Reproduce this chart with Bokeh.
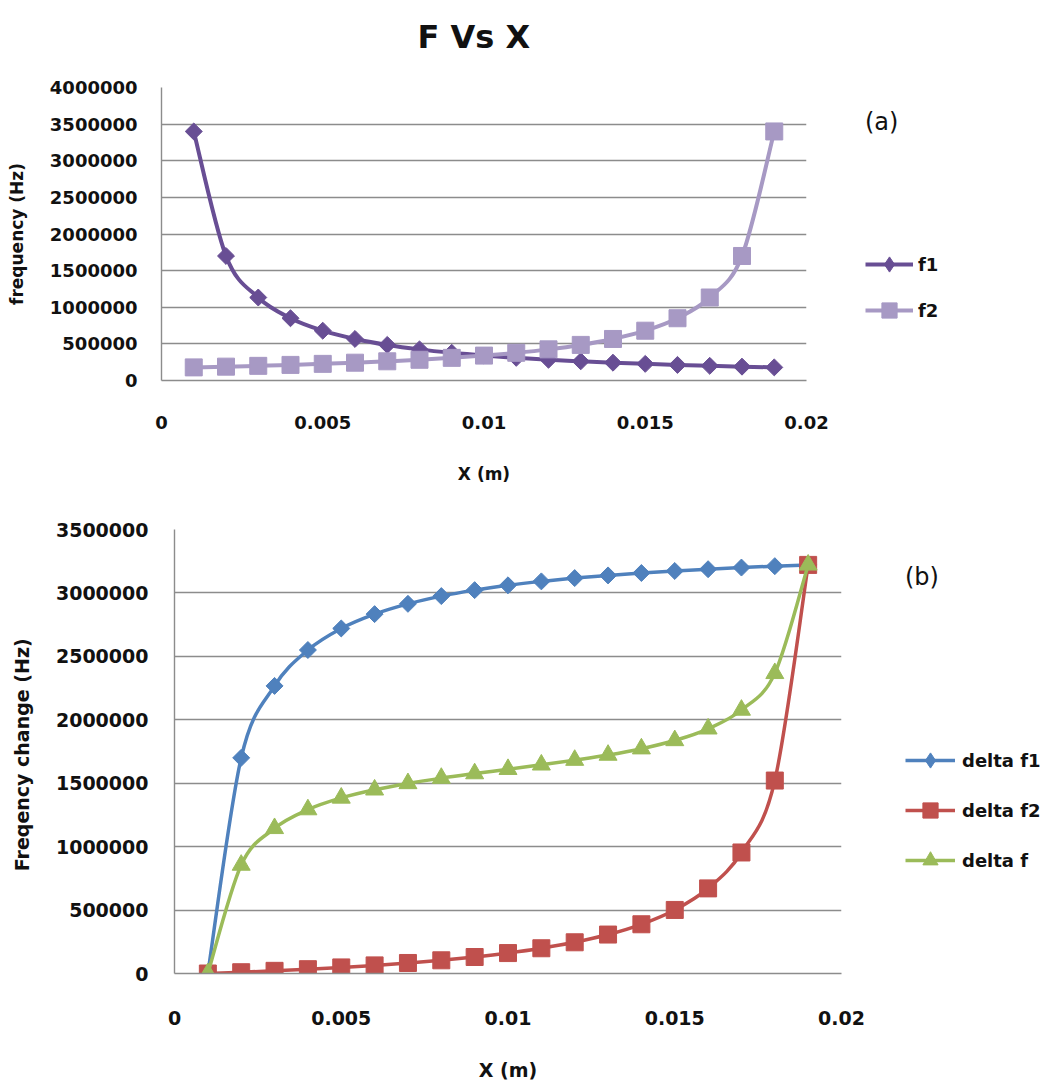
import math
from bokeh.plotting import figure
from bokeh.layouts import column
from bokeh.models import (ColumnDataSource, Range1d, Legend, LegendItem, Title,
                          BasicTickFormatter, FixedTicker)
from bokeh.embed import file_html
from bokeh.resources import INLINE

# ---------------- data ----------------
x_m = [0.001, 0.002, 0.003, 0.004, 0.005, 0.006, 0.007, 0.008, 0.009, 0.010,
       0.011, 0.012, 0.013, 0.014, 0.015, 0.016, 0.017, 0.018, 0.019]

f1 = [3400000, 1700000, 1133000, 850000, 680000, 567000, 486000, 425000, 378000, 340000,
      309000, 283000, 262000, 243000, 227000, 213000, 200000, 189000, 179000]
f2 = [179000, 189000, 200000, 213000, 227000, 243000, 262000, 283000, 309000, 340000,
      378000, 425000, 486000, 567000, 680000, 850000, 1133000, 1700000, 3400000]

delta_f1 = [0, 1700000, 2267000, 2550000, 2720000, 2833000, 2914000, 2975000, 3022000, 3060000,
            3091000, 3117000, 3138000, 3157000, 3173000, 3187000, 3200000, 3211000, 3221000]
delta_f2 = [0, 10000, 21000, 34000, 48000, 64000, 83000, 104000, 130000, 161000,
            199000, 246000, 307000, 388000, 501000, 671000, 954000, 1521000, 3221000]
delta_f = [0, 855000, 1144000, 1292000, 1384000, 1448000, 1498000, 1540000, 1576000, 1610000,
           1645000, 1682000, 1722000, 1772000, 1837000, 1929000, 2077000, 2366000, 3221000]

x_ticks = [0, 0.005, 0.01, 0.015, 0.02]
x_tick_labels = ["0", "0.005", "0.01", "0.015", "0.02"]
y_ticks_a = [0, 500000, 1000000, 1500000, 2000000, 2500000, 3000000, 3500000, 4000000]
y_ticks_b = [0, 500000, 1000000, 1500000, 2000000, 2500000, 3000000, 3500000]

FONT = "DejaVu Sans"
GRID = "#8c8c8c"
TXT = "#111111"


def smooth(xs, ys):
    """Bezier segments (Catmull-Rom style, like Excel's smoothed lines)."""
    n = len(xs)
    d = dict(x0=[], y0=[], x1=[], y1=[], cx0=[], cy0=[], cx1=[], cy1=[])
    for i in range(n - 1):
        ip = max(i - 1, 0)
        i2 = min(i + 2, n - 1)
        d["x0"].append(xs[i]); d["y0"].append(ys[i])
        d["x1"].append(xs[i + 1]); d["y1"].append(ys[i + 1])
        d["cx0"].append(xs[i] + (xs[i + 1] - xs[ip]) / 6.0)
        d["cy0"].append(ys[i] + (ys[i + 1] - ys[ip]) / 6.0)
        d["cx1"].append(xs[i + 1] - (xs[i2] - xs[i]) / 6.0)
        d["cy1"].append(ys[i + 1] - (ys[i2] - ys[i]) / 6.0)
    return ColumnDataSource(d)


def style(p, ticks_y, tick_size, lab_size, tick_std, xstd, xlab_std, ylab_std):
    try:
        p.frame_align = False
    except Exception:
        pass
    p.outline_line_color = None
    p.xgrid.grid_line_color = None
    p.ygrid.grid_line_color = GRID
    p.ygrid.grid_line_width = 1.4
    p.xaxis.ticker = FixedTicker(ticks=x_ticks)
    p.xaxis.major_label_overrides = {t: l for t, l in zip(x_ticks, x_tick_labels)}
    p.yaxis.ticker = FixedTicker(ticks=ticks_y)
    p.yaxis.formatter = BasicTickFormatter(use_scientific=False)
    for ax in (p.xaxis, p.yaxis):
        ax.axis_line_color = GRID
        ax.axis_line_width = 1.4
        ax.major_tick_line_color = None
        ax.minor_tick_line_color = None
        ax.major_tick_out = 0
        ax.major_tick_in = 0
        ax.major_label_text_font = FONT
        ax.major_label_text_font_style = "bold"
        ax.major_label_text_font_size = tick_size
        ax.major_label_text_color = TXT
        ax.axis_label_text_font = FONT
        ax.axis_label_text_font_style = "bold"
        ax.axis_label_text_font_size = lab_size
        ax.axis_label_text_color = TXT
    p.yaxis.major_label_standoff = tick_std
    p.xaxis.major_label_standoff = xstd
    p.xaxis.axis_label_standoff = xlab_std
    p.yaxis.axis_label_standoff = ylab_std


def series_legend(items, tag, tag_std, loc, gw, spacing, std):
    return Legend(items=items, location=loc, orientation="vertical",
                  title=tag, title_text_font=FONT, title_text_font_style="normal",
                  title_text_font_size="24px", title_text_color=TXT,
                  title_standoff=tag_std,
                  glyph_width=gw, glyph_height=38, label_height=20, spacing=spacing,
                  label_standoff=std, padding=0, margin=0,
                  border_line_color=None, background_fill_alpha=0,
                  label_text_font=FONT, label_text_font_style="bold",
                  label_text_font_size="18px", label_text_color=TXT)


# ---------------- chart (a) ----------------
p1 = figure(width=1030, height=488, frame_width=645, frame_height=293,
            min_border_left=161, min_border_top=87, min_border_right=224, min_border_bottom=108,
            x_range=Range1d(0, 0.02), y_range=Range1d(0, 4000000),
            output_backend="svg", toolbar_location=None,
            x_axis_label="X (m)", y_axis_label="frequency (Hz)")
style(p1, y_ticks_a, "18px", "17px", 24, 35, 32, 20)
p1.title.text = "F Vs X"
p1.title.align = "left"
p1.title.offset = 256
p1.title.standoff = 0
p1.title.text_font = FONT
p1.title.text_font_style = "bold"
p1.title.text_font_size = "32px"
p1.title.text_color = TXT
# spacer between the frame and the title
p1.add_layout(Title(text=" ", text_font_size="10px", standoff=19), "above")

C_F1 = "#684e94"
C_F2 = "#a799c4"
s = smooth(x_m, f1)
r1l = p1.bezier("x0", "y0", "x1", "y1", "cx0", "cy0", "cx1", "cy1", source=s,
                line_color=C_F1, line_width=4)
r1m = p1.scatter(x_m, f1, marker="square", angle=math.pi / 4, size=12,
                 fill_color=C_F1, line_color=C_F1)
# legend-only diamond key (hidden in the plot itself)
r1k = p1.scatter(x_m, f1, marker="diamond", size=16, fill_color=C_F1, line_color=C_F1,
                 visible=False)
s = smooth(x_m, f2)
r2l = p1.bezier("x0", "y0", "x1", "y1", "cx0", "cy0", "cx1", "cy1", source=s,
                line_color=C_F2, line_width=4)
r2m = p1.scatter(x_m, f2, marker="square", size=17, fill_color=C_F2, line_color=C_F2)

p1.add_layout(series_legend([LegendItem(label="f1", renderers=[r1l, r1k]),
                             LegendItem(label="f2", renderers=[r2l, r2m])],
                            "(a)", 109, (59, 51), 48, 8, 5), "right")

# ---------------- chart (b) ----------------
p2 = figure(width=1030, height=596, frame_width=667, frame_height=444,
            min_border_left=174, min_border_top=41, min_border_right=189, min_border_bottom=111,
            x_range=Range1d(0, 0.02), y_range=Range1d(0, 3500000),
            output_backend="svg", toolbar_location=None,
            x_axis_label="X (m)", y_axis_label="Freqency change  (Hz)")
style(p2, y_ticks_b, "19px", "19px", 26, 37, 31, 20)

C_B = "#4f81bd"
C_R = "#c0504d"
C_G = "#9bbb59"
s = smooth(x_m, delta_f1)
b1l = p2.bezier("x0", "y0", "x1", "y1", "cx0", "cy0", "cx1", "cy1", source=s,
                line_color=C_B, line_width=3.5)
b1m = p2.scatter(x_m, delta_f1, marker="square", angle=math.pi / 4, size=12,
                 fill_color=C_B, line_color=C_B)
b1k = p2.scatter(x_m, delta_f1, marker="diamond", size=16, fill_color=C_B, line_color=C_B,
                 visible=False)
s = smooth(x_m, delta_f2)
b2l = p2.bezier("x0", "y0", "x1", "y1", "cx0", "cy0", "cx1", "cy1", source=s,
                line_color=C_R, line_width=3.5)
b2m = p2.scatter(x_m, delta_f2, marker="square", size=17, fill_color=C_R, line_color=C_R)
s = smooth(x_m, delta_f)
b3l = p2.bezier("x0", "y0", "x1", "y1", "cx0", "cy0", "cx1", "cy1", source=s,
                line_color=C_G, line_width=3.5)
b3m = p2.scatter(x_m, delta_f, marker="triangle", size=18, fill_color=C_G, line_color=C_G)

p2.add_layout(series_legend([LegendItem(label="delta f1", renderers=[b1l, b1k]),
                             LegendItem(label="delta f2", renderers=[b2l, b2m]),
                             LegendItem(label="delta f", renderers=[b3l, b3m])],
                            "(b)", 150, (64, 94), 50, 12, 7), "right")

layout = column(p1, p2, spacing=0)
open("out.html", "w").write(file_html(layout, INLINE))
